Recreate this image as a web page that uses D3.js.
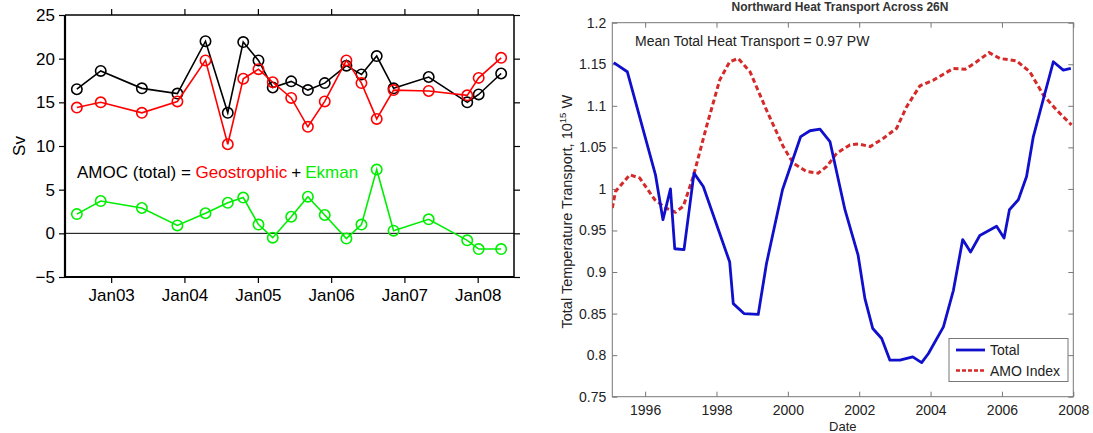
<!DOCTYPE html>
<html><head><meta charset="utf-8">
<script src="https://cdn.jsdelivr.net/npm/d3@7"></script>
<style>
html,body{margin:0;padding:0;background:#fff;}
svg{display:block;font-family:"Liberation Sans",Arial,sans-serif;}
</style></head>
<body>
<svg id="c" width="1093" height="433"></svg>
<script>
// ---- Left panel data (AMOC, Sv) ----
const amocDates = ["2002-07-14","2002-11-10","2003-06-03","2003-11-27","2004-04-15","2004-08-04","2004-10-20","2005-01-04","2005-03-16","2005-06-16","2005-09-07","2005-11-30","2006-03-18","2006-06-01","2006-08-16","2006-11-08","2007-05-02","2007-11-10","2008-01-06","2008-04-27"];
const amocTotal = [16.5,18.6,16.6,16.0,22.0,13.8,21.9,19.8,16.7,17.4,16.4,17.2,19.2,18.2,20.3,16.6,17.9,15.0,15.9,18.3];
const amocGeo   = [14.4,15.0,13.8,15.1,19.8,10.2,17.7,18.8,17.3,15.5,12.2,15.1,19.8,17.2,13.1,16.4,16.3,15.8,17.8,20.1];
const amocEkman = [2.2,3.7,2.9,0.9,2.3,3.5,4.1,1.0,-0.5,1.9,4.2,2.1,-0.6,1.0,7.3,0.3,1.6,-0.8,-1.8,-1.8];
const amocYTicks = [-5,0,5,10,15,20,25];
const amocXTicks = ["2003-01-01","2004-01-01","2005-01-01","2006-01-01","2007-01-01","2008-01-01"];

// ---- Right panel data (heat transport, 10^15 W) ----
const totalYears = [1995.12,1995.50,1996.29,1996.50,1996.71,1996.83,1997.09,1997.37,1997.63,1998.37,1998.47,1998.77,1999.17,1999.40,1999.85,2000.36,2000.62,2000.90,2001.18,2001.60,2001.97,2002.16,2002.38,2002.63,2002.86,2003.14,2003.50,2003.75,2003.94,2004.36,2004.64,2004.90,2005.12,2005.38,2005.85,2006.06,2006.21,2006.46,2006.69,2006.88,2007.44,2007.72,2007.93];
const totalValues = [1.152,1.141,1.017,0.963,1.000,0.928,0.927,1.019,1.003,0.912,0.862,0.850,0.849,0.910,0.999,1.063,1.070,1.072,1.057,0.975,0.920,0.868,0.832,0.820,0.794,0.794,0.798,0.791,0.802,0.834,0.878,0.939,0.924,0.944,0.955,0.941,0.975,0.987,1.015,1.063,1.153,1.143,1.145];
const amoYears = [1995.08,1995.17,1995.57,1995.85,1996.27,1996.58,1996.85,1997.07,1997.35,1997.72,1998.09,1998.37,1998.61,1998.94,1999.40,1999.87,2000.15,2000.52,2000.85,2001.09,2001.37,2001.74,2001.98,2002.31,2002.68,2003.05,2003.33,2003.70,2004.08,2004.36,2004.64,2004.97,2005.29,2005.64,2005.94,2006.41,2006.78,2007.16,2007.53,2007.95];
const amoValues = [0.977,0.997,1.017,1.013,0.987,0.977,0.972,0.979,1.015,1.075,1.131,1.153,1.157,1.141,1.095,1.051,1.031,1.021,1.019,1.027,1.043,1.053,1.054,1.051,1.061,1.073,1.099,1.124,1.131,1.138,1.145,1.144,1.153,1.164,1.157,1.154,1.141,1.113,1.095,1.077];
const heatYTicks = [0.75,0.8,0.85,0.9,0.95,1,1.05,1.1,1.15,1.2];
const heatXTicks = [1996,1998,2000,2002,2004,2006,2008];

const svg = d3.select("#c");
const parse = d3.timeParse("%Y-%m-%d");

// ================= LEFT PANEL =================
(function(){
  const L = {x0:65, x1:514, y0:15, y1:277};
  const x = d3.scaleTime().domain([parse("2002-05-16"), parse("2008-06-30")]).range([L.x0, L.x1]);
  const y = d3.scaleLinear().domain([-5,25]).range([L.y1, L.y0]);
  const g = svg.append("g");
  const xt = amocXTicks.map(parse);
  const fmt = d3.timeFormat("Jan%y");

  const bx = g.append("g").attr("transform",`translate(0,${L.y1})`)
    .call(d3.axisBottom(x).tickValues(xt).tickFormat(fmt).tickSize(6).tickSizeOuter(0).tickPadding(6));
  const tx = g.append("g").attr("transform",`translate(0,${L.y0})`)
    .call(d3.axisTop(x).tickValues(xt).tickFormat("").tickSize(6).tickSizeOuter(0));
  const ly = g.append("g").attr("transform",`translate(${L.x0},0)`)
    .call(d3.axisLeft(y).tickValues(amocYTicks).tickFormat(d => d < 0 ? "\u2212" + Math.abs(d) : d).tickSize(6).tickSizeOuter(0).tickPadding(4));
  const ry = g.append("g").attr("transform",`translate(${L.x1},0)`)
    .call(d3.axisRight(y).tickValues(amocYTicks).tickFormat("").tickSize(6).tickSizeOuter(0));
  [bx,tx,ly,ry].forEach(a => {
    a.select(".domain").remove();
    a.selectAll("line").attr("stroke","#000").attr("stroke-width",1.2);
    a.selectAll("text").attr("font-size",17).attr("fill","#000").attr("font-family","Liberation Sans, Arial, sans-serif");
  });
  // frame
  g.append("line").attr("x1",L.x0).attr("x2",L.x1).attr("y1",L.y0).attr("y2",L.y0).attr("stroke","#000").attr("stroke-width",1.5);
  g.append("line").attr("x1",L.x1).attr("x2",L.x1).attr("y1",L.y0).attr("y2",L.y1).attr("stroke","#000").attr("stroke-width",1.5);
  g.append("line").attr("x1",L.x0).attr("x2",L.x1).attr("y1",L.y1).attr("y2",L.y1).attr("stroke","#000").attr("stroke-width",2.2);
  g.append("line").attr("x1",L.x0).attr("x2",L.x0).attr("y1",L.y0).attr("y2",L.y1).attr("stroke","#000").attr("stroke-width",2.2);
  // zero line
  g.append("line").attr("x1",L.x0).attr("x2",L.x1).attr("y1",y(0)).attr("y2",y(0)).attr("stroke","#000").attr("stroke-width",1);

  // Sv label
  g.append("text").attr("transform",`translate(25,${(L.y0+L.y1)/2}) rotate(-90)`)
    .attr("text-anchor","middle").attr("font-size",17).text("Sv");

  const series = [
    {vals: amocTotal, color:"#000"},
    {vals: amocGeo, color:"#ff0000"},
    {vals: amocEkman, color:"#00ee00"}
  ];
  const dates = amocDates.map(parse);
  series.forEach(s => {
    const pts = dates.map((d,i)=>[d, s.vals[i]]);
    g.append("path").datum(pts)
      .attr("d", d3.line().x(p=>x(p[0])).y(p=>y(p[1])))
      .attr("fill","none").attr("stroke",s.color).attr("stroke-width",1.6);
    g.selectAll(null).data(pts).enter().append("circle")
      .attr("cx",p=>x(p[0])).attr("cy",p=>y(p[1])).attr("r",5.2)
      .attr("fill","none").attr("stroke",s.color).attr("stroke-width",1.6);
  });

  // annotation
  const t = g.append("text").attr("x",77).attr("y",178).attr("font-size",17);
  t.append("tspan").attr("fill","#000").text("AMOC (total) = ");
  t.append("tspan").attr("fill","#ff0000").text("Geostrophic");
  t.append("tspan").attr("fill","#000").attr("dx",4).text("+");
  t.append("tspan").attr("fill","#00ee00").attr("dx",4).text("Ekman");
})();

// ================= RIGHT PANEL =================
(function(){
  const R = {x0:612.3, x1:1073.3, y0:22.7, y1:396.7};
  const x = d3.scaleLinear().domain([1995.08, 2008]).range([R.x0, R.x1]);
  const y = d3.scaleLinear().domain([0.75, 1.2]).range([R.y1, R.y0]);
  const g = svg.append("g");
  const axCol = "#777", txtCol = "#222";

  // title (mostly cut off at the top in the reference)
  g.append("text").attr("x",840).attr("y",11).attr("text-anchor","middle")
    .attr("font-size",12).attr("font-weight","bold").attr("fill","#333")
    .text("Northward Heat Transport Across 26N");

  g.append("rect").attr("x",R.x0).attr("y",R.y0).attr("width",R.x1-R.x0).attr("height",R.y1-R.y0)
    .attr("fill","none").attr("stroke",axCol).attr("stroke-width",1);

  const fmtY = d => d3.format("")(+d.toFixed(2));
  const bx = g.append("g").attr("transform",`translate(0,${R.y1})`)
    .call(d3.axisBottom(x).tickValues(heatXTicks).tickFormat(d3.format("d")).tickSize(-5).tickSizeOuter(0).tickPadding(8));
  const tx = g.append("g").attr("transform",`translate(0,${R.y0})`)
    .call(d3.axisTop(x).tickValues(heatXTicks).tickFormat("").tickSize(-5).tickSizeOuter(0));
  const ly = g.append("g").attr("transform",`translate(${R.x0},0)`)
    .call(d3.axisLeft(y).tickValues(heatYTicks).tickFormat(fmtY).tickSize(-5).tickSizeOuter(0).tickPadding(6));
  const ry = g.append("g").attr("transform",`translate(${R.x1},0)`)
    .call(d3.axisRight(y).tickValues(heatYTicks).tickFormat("").tickSize(-5).tickSizeOuter(0));
  [bx,tx,ly,ry].forEach(a => {
    a.select(".domain").remove();
    a.selectAll("line").attr("stroke",axCol).attr("stroke-width",1);
    a.selectAll("text").attr("font-size",14).attr("fill",txtCol).attr("font-family","Liberation Sans, Arial, sans-serif");
  });

  g.append("text").attr("x",(R.x0+R.x1)/2).attr("y",431).attr("text-anchor","middle")
    .attr("font-size",13).attr("fill",txtCol).text("Date");
  const yl = g.append("text").attr("transform",`translate(572,${(R.y0+R.y1)/2 + 2}) rotate(-90)`)
    .attr("text-anchor","middle").attr("font-size",14.5).attr("fill",txtCol);
  yl.append("tspan").text("Total Temperature Transport, 10");
  yl.append("tspan").attr("font-size",9.5).attr("dy",-6).text("15");
  yl.append("tspan").attr("dy",6).text(" W");

  g.append("text").attr("x",635).attr("y",46).attr("font-size",14).attr("fill",txtCol)
    .text("Mean Total Heat Transport = 0.97 PW");

  g.append("clipPath").attr("id","rc").append("rect")
    .attr("x",R.x0).attr("y",R.y0).attr("width",R.x1-R.x0).attr("height",R.y1-R.y0);

  const line = d3.line().x(p=>x(p[0])).y(p=>y(p[1]));
  g.append("path").datum(amoYears.map((d,i)=>[d, amoValues[i]]))
    .attr("d", line).attr("fill","none").attr("stroke","#d42a2a").attr("stroke-width",3)
    .attr("stroke-dasharray","5,3").attr("clip-path","url(#rc)");
  g.append("path").datum(totalYears.map((d,i)=>[d, totalValues[i]]))
    .attr("d", line).attr("fill","none").attr("stroke","#1010cc").attr("stroke-width",2.8)
    .attr("stroke-linejoin","round").attr("clip-path","url(#rc)");

  // legend
  const lg = g.append("g");
  lg.append("rect").attr("x",949).attr("y",338.5).attr("width",119).attr("height",43)
    .attr("fill","#fff").attr("stroke",axCol).attr("stroke-width",1);
  lg.append("line").attr("x1",956).attr("x2",985).attr("y1",350).attr("y2",350)
    .attr("stroke","#1010cc").attr("stroke-width",2.8);
  lg.append("line").attr("x1",956).attr("x2",985).attr("y1",370.5).attr("y2",370.5)
    .attr("stroke","#d42a2a").attr("stroke-width",2.5).attr("stroke-dasharray","4,2");
  lg.append("text").attr("x",990).attr("y",355).attr("font-size",14).attr("fill",txtCol).text("Total");
  lg.append("text").attr("x",990).attr("y",375.5).attr("font-size",14).attr("fill",txtCol).text("AMO Index");
})();
</script>
</body></html>
